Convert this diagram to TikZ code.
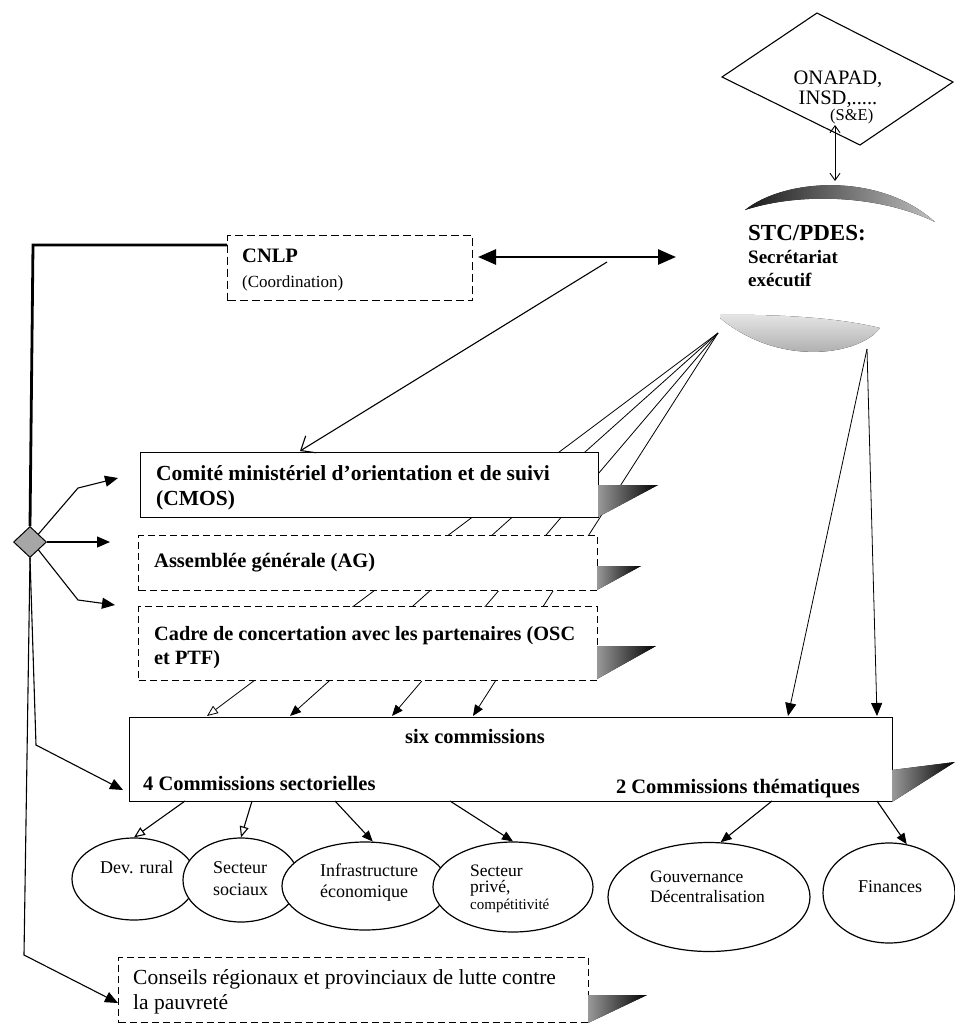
\documentclass[tikz,border=0pt]{standalone}
\usepackage{fontspec}
\setmainfont{Liberation Serif}
\usetikzlibrary{arrows.meta,shapes.geometric}
\newcommand\fsz[2]{\fontsize{#1}{#2}\selectfont}
\begin{document}
\begin{tikzpicture}[x=1pt,y=-1pt,
  solidbox/.style={draw,line width=1.4pt,fill=white,anchor=north west,inner sep=0pt},
  dashbox/.style={draw,line width=1.3pt,dash pattern=on 7pt off 4pt,fill=white,anchor=north west,inner sep=0pt},
  bt/.style={font=\bfseries\fsz{20.5}{24.5},anchor=base west,inner sep=0pt,align=left},
  rt/.style={font=\fsz{21.5}{24.5},anchor=base west,inner sep=0pt,align=left},
  et/.style={font=\fsz{18}{21},anchor=base west,inner sep=0pt,align=left},
  ell/.style={draw,ellipse,line width=1.2pt,fill=white,inner sep=0pt},
  shadowtri/.style={left color=black!40,right color=black,draw=none},
  conn/.style={line width=1.1pt},
  fan/.style={line width=0.8pt},
  tri/.style={-{Triangle[length=11pt,width=9pt]}},
  otri/.style={-{Triangle[open,length=11pt,width=9pt,fill=white]}},
  bigtri/.style={-{Triangle[length=13pt,width=11pt]}},
]
\useasboundingbox (0,0) rectangle (955,1026);

% ---------- ONAPAD diamond ----------
\draw[line width=1.1pt] (817,13) -- (953,82) -- (860,145) -- (722,77) -- cycle;
\node[font=\fsz{20.5}{20},align=center,anchor=base,inner sep=0pt] (onapad) at (838,104) {ONAPAD,\\INSD,.....};
\node[font=\fsz{16.5}{18},anchor=base west,inner sep=0pt] (se) at (830,120) {(S\&E)};

% ---------- STC/PDES ----------
\fill[left color=black!90,right color=black!25] (745,210) .. controls (785,178) and (880,172) .. (935,222) .. controls (880,195) and (800,192) .. (745,210) -- cycle;
\fill[top color=black!10,bottom color=black!40] (720,315) .. controls (780,314) and (840,318) .. (880,328) .. controls (860,355) and (780,368) .. (720,318) -- cycle;
\node[font=\bfseries\fsz{19}{23},anchor=base west,align=left,inner sep=0pt] (stc) at (748,286) {{\fsz{23}{23}STC/PDES:}\\Secrétariat\\exécutif};
\coordinate (oB) at (835,125);
\coordinate (sT) at (835,181);
\draw[line width=0.9pt,{Straight Barb[length=7pt,width=10pt]}-{Straight Barb[length=7pt,width=10pt]}] (oB) -- (sT);

% ---------- fan lines from STC ----------
\coordinate (fan) at (718,333);
\coordinate (fr) at (867,349);
\coordinate (t1) at (207,716);
\coordinate (t2) at (290,716);
\coordinate (t3) at (392,716);
\coordinate (t4) at (473,716);
\coordinate (t5) at (788,716);
\coordinate (t6) at (877,716);
\draw[fan,otri] (fan) -- (t1);
\draw[fan,tri] (fan) -- (t2);
\draw[fan,tri] (fan) -- (t3);
\draw[fan,tri] (fan) -- (t4);
\draw[fan,bigtri] (fr) -- (t5);
\draw[fan,bigtri] (fr) -- (t6);

% ---------- CNLP ----------
\node[dashbox,dash pattern=on 8pt off 4pt,minimum width=245pt,minimum height=65pt] (cnlp) at (227,235) {};
\node[bt,font=\bfseries\fsz{20.5}{24}] (cnlpt) at (242,262) {CNLP};
\node[rt,font=\fsz{17}{20}] (coord) at (242,287) {(Coordination)};
\coordinate (dl) at (478,257);
\coordinate (dr) at (676,257);
\draw[line width=2.6pt,{Triangle[length=18pt,width=15pt]}-{Triangle[length=18pt,width=15pt]}] (dl) -- (dr);

% ---------- boxes ----------
\node[solidbox,minimum width=458pt,minimum height=65pt] (cmos) at (140,452) {};
\node[bt,font=\bfseries\fsz{21.5}{25}] (cmost) at (156,505) {Comité ministériel d’orientation et de suivi\\(CMOS)};
\node[dashbox,minimum width=459pt,minimum height=55pt] (ag) at (138,535) {};
\node[bt] (agt) at (154,567) {Assemblée générale (AG)};
\node[dashbox,minimum width=459pt,minimum height=74pt] (cadre) at (138,606) {};
\node[bt,font=\bfseries\fsz{20.3}{24}] (cadret) at (154,664) {Cadre de concertation avec les partenaires (OSC\\et PTF)};

\fill[shadowtri] (598,485) -- (658,485) -- (598,517) -- cycle;
\fill[shadowtri] (597,566) -- (641,566) -- (597,590) -- cycle;
\fill[shadowtri] (597,646) -- (656,646) -- (597,679) -- cycle;

\coordinate (c0) at (607,262);
\coordinate (cmostop) at (300,451);
\draw[conn,-{Straight Barb[length=12pt,width=20pt]}] (c0) -- (cmostop);

% ---------- six commissions ----------
\node[solidbox,line width=1.2pt,minimum width=763pt,minimum height=84pt] (six) at (129,717) {};
\node[bt,anchor=base] (sixt) at (475,743) {six commissions};
\node[bt] (sect) at (143,790) {4 Commissions sectorielles};
\node[bt,anchor=base east] (them) at (860,793) {2 Commissions thématiques};
\fill[shadowtri] (892,770) -- (955,762) -- (892,802) -- cycle;

% ---------- ellipses ----------
\node[ell,minimum width=124pt,minimum height=82pt] (devr) at (134,879) {};
\node[ell,minimum width=116pt,minimum height=84pt] (socx) at (241,880) {};
\node[ell,minimum width=166pt,minimum height=88pt] (infra) at (365,886) {};
\node[ell,minimum width=160pt,minimum height=90pt] (priv) at (513,887) {};
\node[ell,minimum width=202pt,minimum height=109pt] (gouv) at (709,897) {};
\node[ell,minimum width=132pt,minimum height=100pt] (fin) at (889,893) {};
\node[et] (devrt) at (100,873) {Dev. rural};
\node[et,font=\fsz{18}{22}] (socxt) at (213,895) {Secteur\\sociaux};
\node[et] (infrat) at (320,897) {Infrastructure\\économique};
\node[et,font=\fsz{17.5}{16.5}] (privt) at (470,909) {Secteur\\privé,\\{\fsz{15}{16}compétitivité}};
\node[et,font=\fsz{17.5}{20}] (gouvt) at (650,902) {Gouvernance\\Décentralisation};
\node[et] (fint) at (858,892) {Finances};

\coordinate (s1) at (185,801);
\coordinate (s2) at (252,801);
\coordinate (s3) at (335,801);
\coordinate (s4) at (450,801);
\coordinate (s5) at (772,801);
\coordinate (s6) at (877,801);
\draw[conn,otri] (s1) -- (devr.north);
\draw[conn,otri] (s2) -- (socx.north);
\draw[conn,tri] (s3) -- (infra.80);
\draw[conn,tri] (s4) -- (priv.north);
\draw[conn,tri] (s5) -- (gouv.78);
\draw[conn,tri] (s6) -- (fin.70);

% ---------- Conseils ----------
\node[dashbox,minimum width=470pt,minimum height=65pt] (cons) at (118,957) {};
\node[rt] (const) at (133,1009) {Conseils régionaux et provinciaux de lutte contre\\la pauvreté};
\fill[shadowtri] (588,995) -- (647,995) -- (588,1023) -- cycle;

% ---------- left hub ----------
\node[diamond,draw,fill=black!35,line width=1pt,minimum width=33pt,minimum height=31pt,inner sep=0pt] (hub) at (30,542) {};
\coordinate (cn) at (227,245);
\draw[line width=2.8pt] (cn) -- (33,245) -- (hub.north);
\coordinate (h1) at (78,488);
\coordinate (a1) at (118,478);
\coordinate (a2) at (110,542);
\coordinate (h3) at (78,600);
\coordinate (a3) at (115,605);
\coordinate (h4) at (36,745);
\coordinate (a4) at (123,790);
\coordinate (h5) at (24,955);
\coordinate (a5) at (118,1003);
\draw[conn,bigtri] (hub.north east) -- (h1) -- (a1);
\draw[conn,bigtri] (hub.east) -- (a2);
\draw[conn,bigtri] (hub.south east) -- (h3) -- (a3);
\draw[conn,bigtri] (hub.south) -- (h4) -- (a4);
\draw[conn,bigtri] (hub.south) -- (h5) -- (a5);
\end{tikzpicture}
\end{document}
